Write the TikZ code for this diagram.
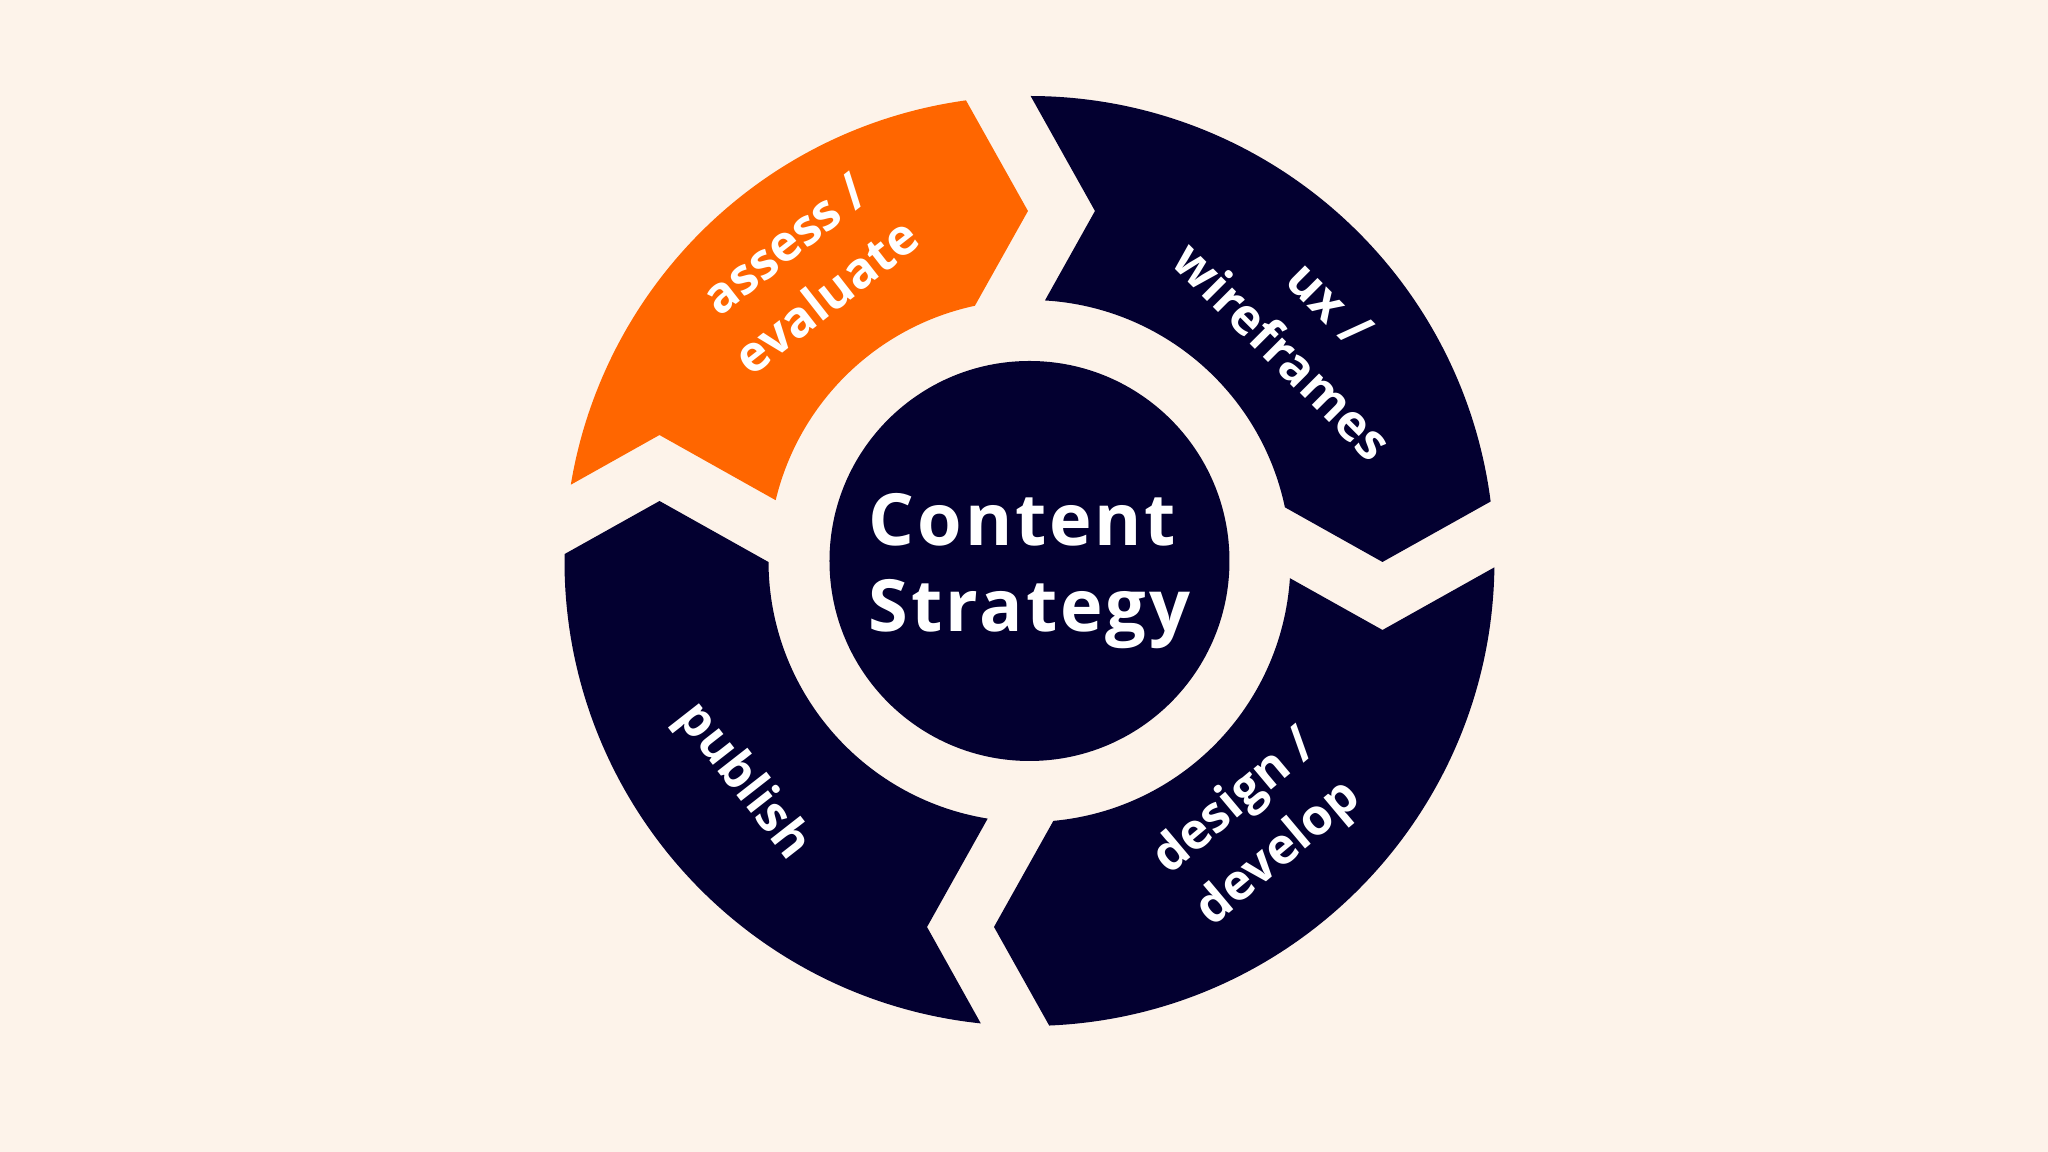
\documentclass[tikz,border=0pt]{standalone}
\usepackage{fontspec}
\setmainfont{Open Sans}
\newfontfamily\titlefont{Open Sans}[LetterSpace = 4]

\definecolor{cream}{RGB}{253,243,234}
\definecolor{navy}{RGB}{3,0,48}
\definecolor{flame}{RGB}{255,102,0}

\begin{document}
\begin{tikzpicture}[
		x = 0.25pt,
		y = 0.25pt,
		seg/.style = {
			fill = navy
		},
		segon/.style = {
			fill = flame
		},
		hub/.style = {
			circle,
			fill = navy,
			inner sep = 0,
			minimum size = 100pt
		},
		lbl/.style = {
			text = white,
			align = center,
			inner sep = 0,
			font = \fontsize{12.5}{16.75}\selectfont\bfseries
		},
		title/.style = {
			text = white,
			align = left,
			inner sep = 0,
			font = \fontsize{18}{21.6}\selectfont\titlefont\bfseries
		}
	]
	\coordinate (sw) at (-1029.5, -591);
	\coordinate (ne) at (+1018.5, +561);

	\useasboundingbox (sw) rectangle (ne);
	\fill [cream] (sw) rectangle (ne);

	% assess / evaluate
	\fill [segon] (170.56:465) arc [start angle = 170.56, end angle = 97.85, radius = 116.25pt]
		-- (90.25:350) -- (102.08:261) arc [start angle = 102.08, end angle = 166.53, radius = 65.25pt]
		-- (161.20:390.9) -- cycle;

	% ux / wireframes
	\fill [seg] (89.86:465) arc [start angle = 89.86, end angle = 7.35, radius = 116.25pt]
		-- (-0.16:353) -- (11.87:261) arc [start angle = 11.87, end angle = 86.60, radius = 65.25pt]
		-- (79.40:356.1) -- cycle;

	% design / develop
	\fill [seg] (-0.78:465) arc [start angle = -0.78, end angle = -87.57, radius = 116.25pt]
		-- (-95.54:367.7) -- (-84.75:261) arc [start angle = -84.75, end angle = -3.78, radius = 65.25pt]
		-- (-11.06:359.7) -- cycle;

	% publish
	\fill [seg] (263.99:465) arc [start angle = 263.99, end angle = 179.15, radius = 116.25pt]
		-- (170.79:374.8) -- (180.23:261) arc [start angle = 180.23, end angle = 260.78, radius = 65.25pt]
		-- (254.36:380.1) -- cycle;

	\node [hub] (hub) at (0, 0) {};
	\node [title] (strategy) at (0, -10) {Content\\Strategy};

	\node [lbl, rotate = 38] (assess) at (127.6:367) {assess /\\evaluate};
	\node [lbl, rotate = -45] (ux) at (40.2:362) {ux /\\wireframes};
	\node [lbl, rotate = 40] (design) at (-49.6:351.5) {design /\\develop};
	\node [lbl, rotate = -52] (publish) at (217.6:362) {publish};
\end{tikzpicture}
\end{document}
